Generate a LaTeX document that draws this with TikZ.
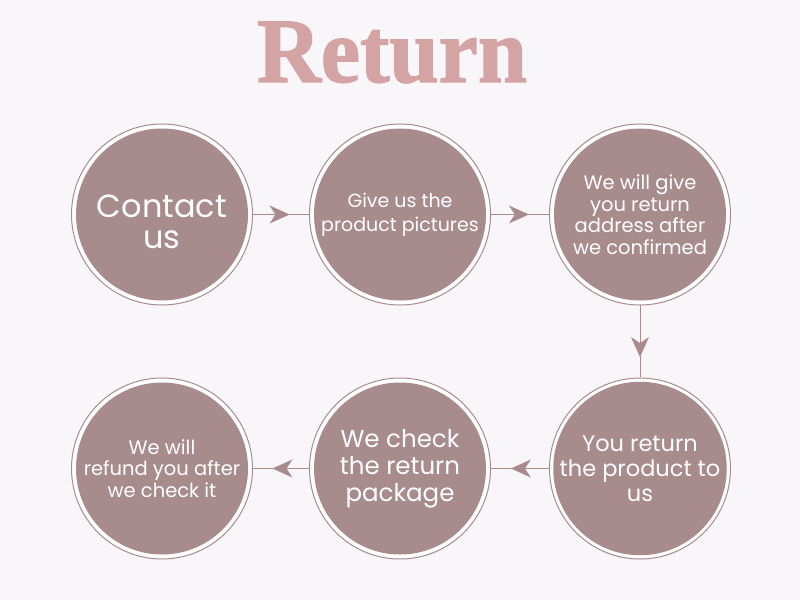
\documentclass[tikz,border=0pt]{standalone}
\usepackage{fontspec}
\setmainfont{Poppins}
\newfontfamily\titlefont{Liberation Serif}[FakeBold=1.5]
\usetikzlibrary{arrows.meta,decorations.markings}
\definecolor{bgc}{HTML}{F9F6F9}
\definecolor{mauve}{HTML}{A88B8C}
\definecolor{titlec}{HTML}{D4A3A3}
\tikzset{
  stepnode/.style={circle, fill=mauve, minimum size=172pt, inner sep=0pt, outer sep=4.5pt,
    text=white, align=center},
  ring/.style={draw=mauve, line width=1pt, fill=white},
  conn/.style={draw=mauve, line width=1pt, postaction={decorate},
    decoration={markings, mark=at position #1 with {\arrow{Stealth[length=20pt,width=18pt,inset=6pt]}}}},
  conn/.default=0.65,
}
\begin{document}
\begin{tikzpicture}[x=1pt,y=-1pt]
\fill[bgc] (0,0) rectangle (800,600);
\useasboundingbox (0,0) rectangle (800,600);
\node[text=titlec, font=\titlefont\bfseries\fontsize{92}{92}\selectfont, anchor=base] (title) at (392,82) {\scalebox{0.96}[1]{Return}};
% rings
\foreach \x/\y in {162/214.5, 400/214.5, 640/214.5, 640/468.5, 400/468.5, 162/468.5}
  \draw[ring] (\x,\y) circle (90.5);
\node[stepnode] (c1) at (162,214.5) {};
\node[text=white, align=center, font=\fontsize{32}{31}\selectfont] (t1) at ([yshift=-7pt]c1.center) {Contact\\us};
\node[stepnode, font=\fontsize{19}{24}\selectfont] (c2) at (400,214.5) {Give us the\\product pictures};
\node[stepnode, font=\fontsize{19.5}{21.5}\selectfont] (c3) at (640,214.5) {We will give\\you return\\address after\\we confirmed};
\node[stepnode, font=\fontsize{22.5}{25}\selectfont] (c4) at (640,468.5) {You return\\the product to\\us};
\node[stepnode, font=\fontsize{24.5}{27}\selectfont] (c5) at (400,468.5) {We check\\the return\\package};
\node[stepnode, font=\fontsize{19.5}{21.5}\selectfont] (c6) at (162,468.5) {We will\\refund you after\\we check it};
\path[conn] (c1.east) -- (c2.west);
\path[conn] (c2.east) -- (c3.west);
\path[conn=0.72] (c3.south) -- (c4.north);
\path[conn] (c4.west) -- (c5.east);
\path[conn] (c5.west) -- (c6.east);
\end{tikzpicture}
\end{document}
